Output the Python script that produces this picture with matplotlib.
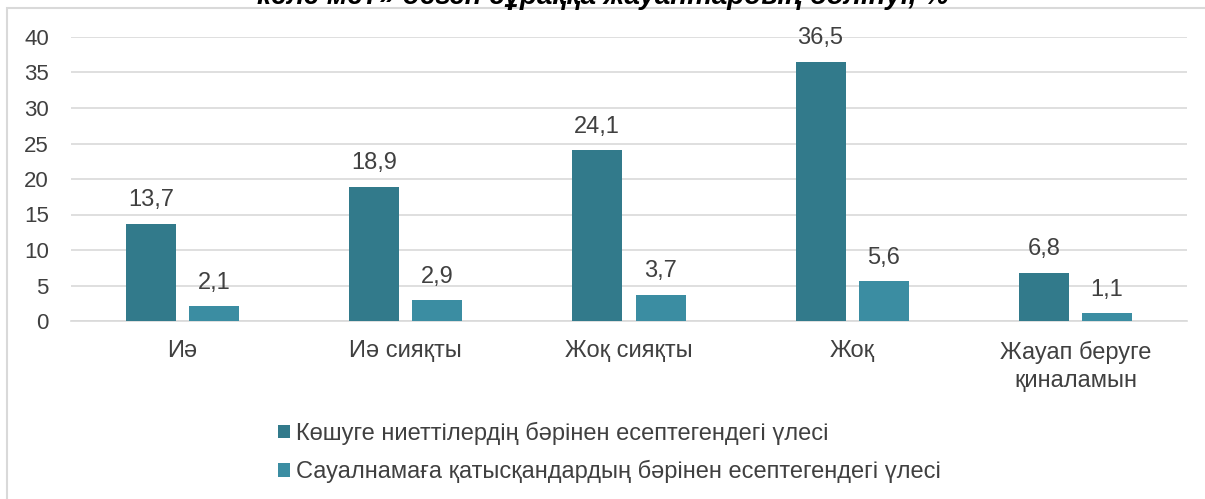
import matplotlib

matplotlib.use("Agg")
import matplotlib.pyplot as plt
import numpy as np
from matplotlib.patches import Rectangle

plt.rcParams["font.family"] = ["Liberation Sans", "DejaVu Sans"]

CATEGORIES = ["Иә", "Иә сияқты", "Жоқ сияқты", "Жоқ", "Жауап беруге\nқиналамын"]
MIGRANTS = [13.7, 18.9, 24.1, 36.5, 6.8]
ALL_RESP = [2.1, 2.9, 3.7, 5.6, 1.1]
SERIES_NAMES = [
    "Көшуге ниеттілердің бәрінен есептегендегі үлесі",
    "Сауалнамаға қатысқандардың бәрінен есептегендегі үлесі",
]
TITLE = "келе ме?» деген сұраққа жауаптардың бөлінуі, %"

DARK = "#327A8B"
LIGHT = "#3B8DA2"
TEXT = "#404040"

fig = plt.figure(figsize=(12.05, 4.99), dpi=100)
ax = fig.add_axes([71 / 1205, 1 - 321 / 499, (1187 - 71) / 1205, (321 - 37) / 499])

x = np.arange(len(CATEGORIES))
w = 0.224
off = 0.142
b1 = ax.bar(x - off, MIGRANTS, w, color=DARK, label=SERIES_NAMES[0], zorder=3)
b2 = ax.bar(x + off, ALL_RESP, w, color=LIGHT, label=SERIES_NAMES[1], zorder=3)

for bars, vals in ((b1, MIGRANTS), (b2, ALL_RESP)):
    for r, v in zip(bars, vals):
        ax.annotate(f"{v:.1f}".replace(".", ","),
                    (r.get_x() + r.get_width() / 2, v),
                    xytext=(0, 12.5), textcoords="offset points",
                    ha="center", va="baseline", fontsize=17, color=TEXT)

ax.set_xlim(-0.5, len(CATEGORIES) - 0.5)
ax.set_ylim(0, 40)
ax.set_yticks(range(0, 41, 5))
ax.set_xticks(x)
ax.set_xticklabels(CATEGORIES, fontsize=17, color=TEXT, linespacing=1.35)
ax.tick_params(axis="y", labelsize=16, labelcolor=TEXT, length=0, pad=16)
ax.tick_params(axis="x", length=0, pad=14)
ax.yaxis.grid(True, color="#D9D9D9", linewidth=1.2, zorder=0)
for s in ("top", "right", "left"):
    ax.spines[s].set_visible(False)
ax.spines["bottom"].set_color("#D9D9D9")
ax.spines["bottom"].set_linewidth(1.2)

fig.legend(loc="upper left", bbox_to_anchor=(266 / 1205, 1 - 410 / 499),
           frameon=False, fontsize=17, labelcolor=TEXT,
           handlelength=0.5, handleheight=0.5, handletextpad=0.25,
           labelspacing=0.65, borderpad=0)

fig.patches.append(Rectangle((7 / 1205, -0.1), 1.2, 1 - 8 / 499 + 0.1,
                             transform=fig.transFigure, fill=False,
                             edgecolor="#D9D9D9", linewidth=1.5))

fig.text(0.5, 1 - 4 / 499, TITLE, ha="center", va="baseline",
         fontsize=20, fontweight="bold", fontstyle="italic", color="black")

fig.savefig("out.png", dpi=100)
